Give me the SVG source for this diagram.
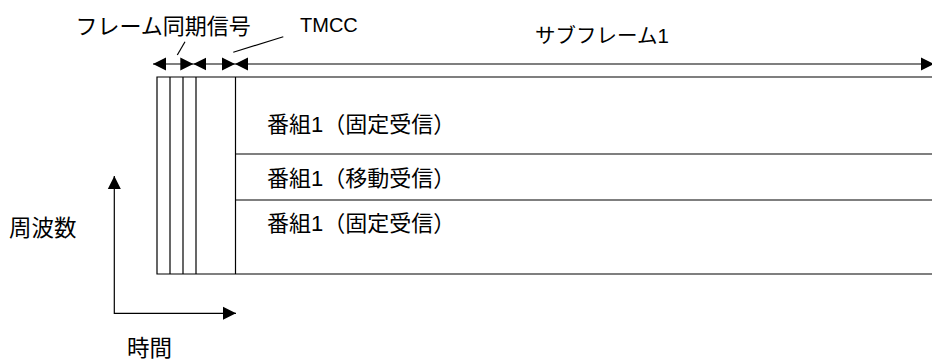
<svg xmlns="http://www.w3.org/2000/svg" width="932" height="359" viewBox="0 0 932 359">
<style>
.t{font-family:"Liberation Sans","Noto Sans CJK JP",sans-serif;font-size:22px;fill:#000}
.l{stroke:#000;stroke-width:1.2;fill:none}
</style>
<defs>
<marker id="ah" markerUnits="userSpaceOnUse" markerWidth="14" markerHeight="14" refX="13" refY="6.5" orient="auto-start-reverse" viewBox="0 0 14 13">
<path d="M0,0 L13,6.5 L0,13 Z" fill="#000"/>
</marker>
</defs>
<rect width="932" height="359" fill="#fff"/>
<g id="frame">
<path class="l" d="M940,77 H157 V274 H940"/>
<line class="l" x1="170" y1="77" x2="170" y2="274"/>
<line class="l" x1="183" y1="77" x2="183" y2="274"/>
<line class="l" x1="196" y1="77" x2="196" y2="274"/>
<line class="l" x1="235.5" y1="77" x2="235.5" y2="274"/>
<line class="l" x1="235.5" y1="154" x2="940" y2="154"/>
<line class="l" x1="235.5" y1="200" x2="940" y2="200"/>
</g>
<g id="prog1"><text class="t" x="267" y="132">番組1（固定受信）</text></g>
<g id="prog2"><text class="t" x="267" y="185.5">番組1（移動受信）</text></g>
<g id="prog3"><text class="t" x="267" y="230.5">番組1（固定受信）</text></g>
<g id="lbl-sync"><text class="t" x="75.5" y="34">フレーム同期信号</text></g>
<g id="lbl-tmcc"><text class="t" style="font-size:20px" x="300" y="31.7">TMCC</text></g>
<g id="lbl-sub"><text class="t" style="font-size:20.5px" x="535" y="43.3">サブフレーム1</text></g>
<g id="lbl-freq"><text class="t" style="font-size:22.5px" x="9" y="235.5">周波数</text></g>
<g id="lbl-time"><text class="t" style="font-size:22.5px" x="127" y="355.5">時間</text></g>
<g id="connectors">
<line class="l" x1="153" y1="64" x2="193.3" y2="64" marker-start="url(#ah)" marker-end="url(#ah)"/>
<line class="l" x1="193.3" y1="64" x2="235" y2="64" marker-start="url(#ah)" marker-end="url(#ah)"/>
<line class="l" x1="235" y1="64" x2="934" y2="64" marker-start="url(#ah)" marker-end="url(#ah)"/>
<line class="l" x1="185" y1="41.7" x2="177.3" y2="55"/>
<line class="l" x1="283.3" y1="36.7" x2="233.3" y2="52.3"/>
<path class="l" d="M114.3,176 V313.3 H236" marker-start="url(#ah)" marker-end="url(#ah)"/>
</g>
</svg>
